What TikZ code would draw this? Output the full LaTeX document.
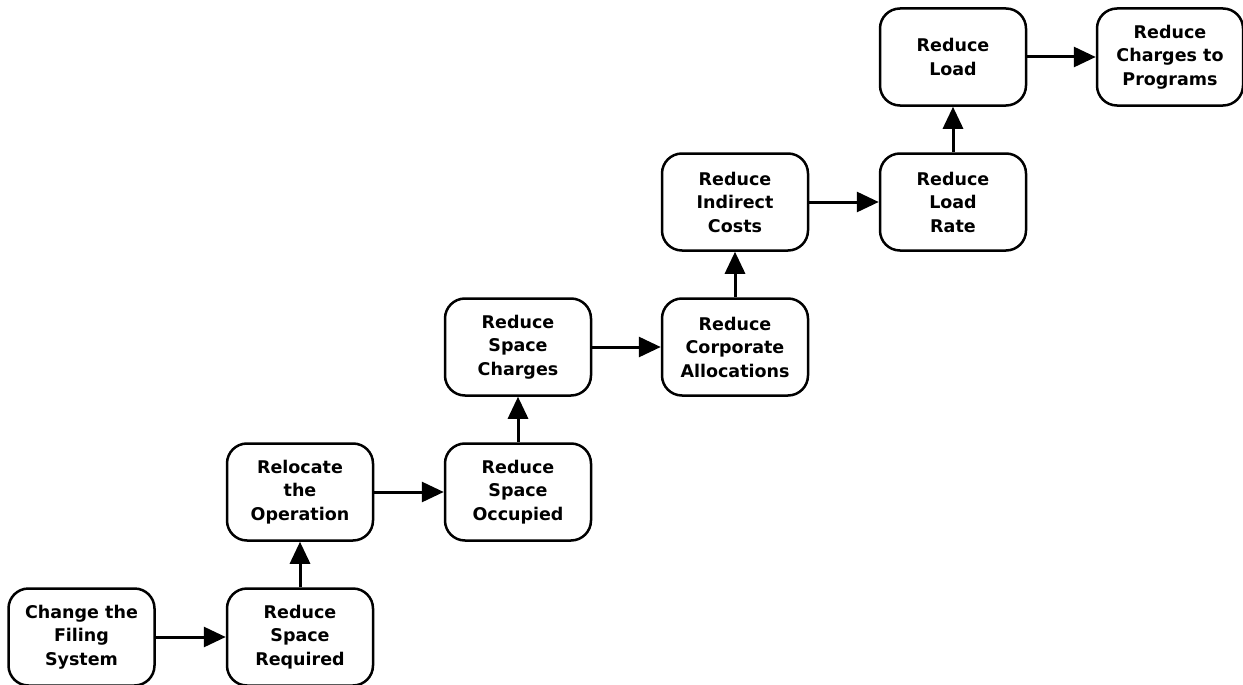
\documentclass[tikz,border=0pt]{standalone}
\usepackage{fontspec}
\setmainfont{DejaVu Sans}
\usetikzlibrary{arrows.meta}
\begin{document}
\begin{tikzpicture}[x=1pt,y=-1pt,
  box/.style={draw=black, line width=2.5pt, rounded corners=20pt, fill=white,
    minimum width=146pt, minimum height=97pt, inner sep=0pt, align=center,
    font=\fontsize{17.5}{23.5}\selectfont\bfseries},
  link/.style={line width=3pt, -{Triangle[length=22pt,width=20pt]}}]
\useasboundingbox (0,0) rectangle (1243,685);
\node[box] (a) at (81.5,637) {Change the\\Filing\\System};
\node[box] (b) at (300,637) {Reduce\\Space\\Required};
\node[box] (c) at (300,492) {Relocate\\the\\Operation};
\node[box] (d) at (518,492) {Reduce\\Space\\Occupied};
\node[box] (e) at (518,347) {Reduce\\Space\\Charges};
\node[box] (f) at (735,347) {Reduce\\Corporate\\Allocations};
\node[box] (g) at (735,202) {Reduce\\Indirect\\Costs};
\node[box] (h) at (953,202) {Reduce\\Load\\Rate};
\node[box] (i) at (953,57) {Reduce\\Load};
\node[box] (j) at (1170,57) {Reduce\\Charges to\\Programs};
\draw[link] (a) -- (b);
\draw[link] (b) -- (c);
\draw[link] (c) -- (d);
\draw[link] (d) -- (e);
\draw[link] (e) -- (f);
\draw[link] (f) -- (g);
\draw[link] (g) -- (h);
\draw[link] (h) -- (i);
\draw[link] (i) -- (j);
\end{tikzpicture}
\end{document}
